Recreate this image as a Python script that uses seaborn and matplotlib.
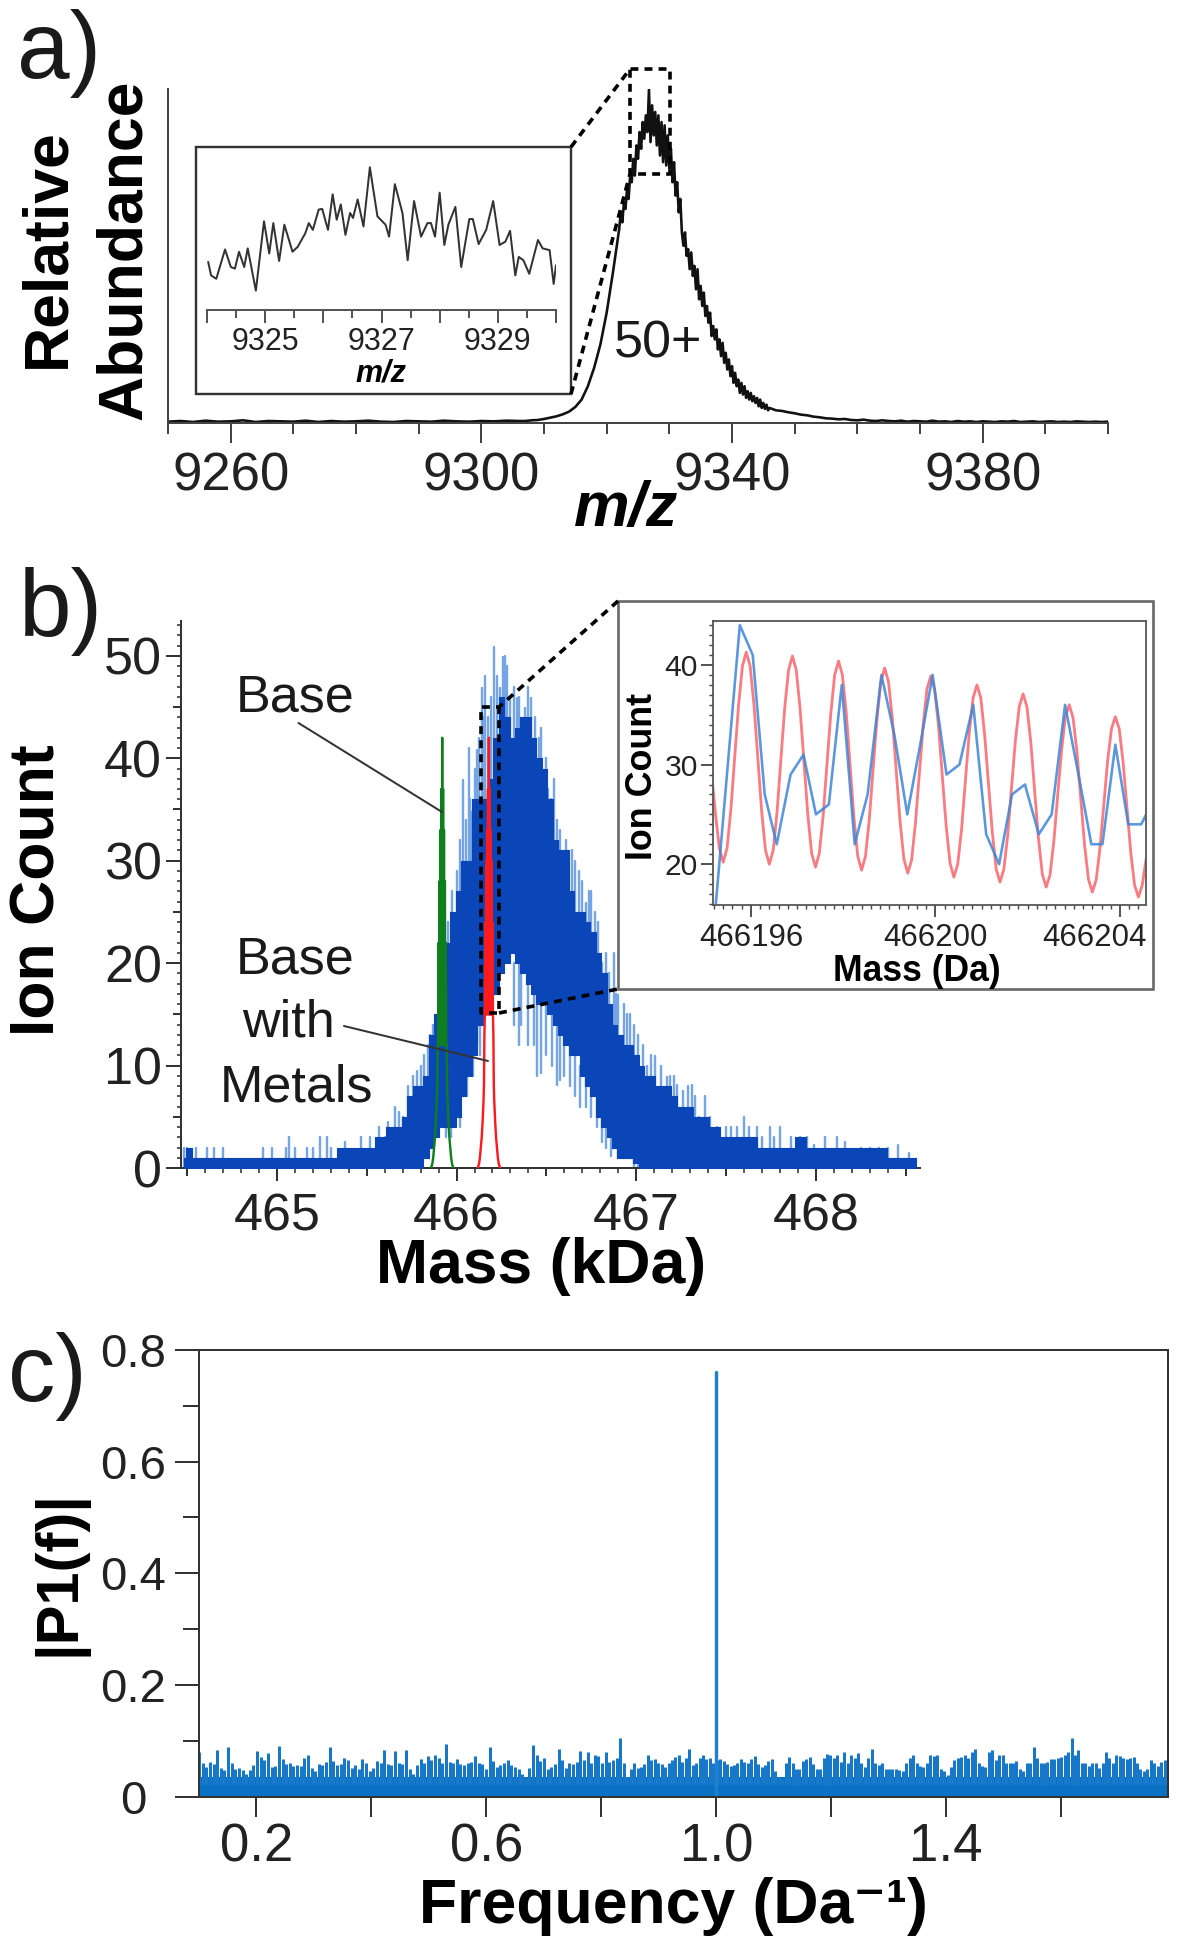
#plot three-panel mass spectra figure

import numpy as np
import pandas as pd
import seaborn as sns
import matplotlib.pyplot as plt
from matplotlib.lines import Line2D
from matplotlib.patches import Rectangle
from matplotlib.transforms import ScaledTranslation

W, H = 1179, 1950
PT = 0.72  # one pixel in points at dpi 100

# ---- panel a, full charge state ----
a_baseline = [0.4,0.6,0.3,0.7,0.4,0.5,0.8,0.3,0.6,0.5,0.4,0.7,0.3,0.6,0.4,0.5,0.7,0.4,0.3,0.6,
              0.5,0.4,0.7,0.5,0.4,0.6,0.5,0.7,0.6]  # 9250-9306, step 2
a_rise = [0.6,0.8,0.9,1.2,1.6,2.0,2.6,3.4,4.8,7,11,16.5,23.5,33,45]  # 9307-9321, step 1
a_peak = [58,63,60,66, 64,70,67,74, 72,79,74,83, 79,87,82,90, 85,92,87,99.8,
          84,95,86,93, 83,92,80,90, 78,89,77,86, 76,82,72,78, 68,72,63,67, 57]  # 9322-9332, step .25
a_flank = [53,57,50, 52,46,51,44, 47,40,46,37, 41,35,39,32, 35,30,33,26, 29,25,28,22,
           25,20,24,18, 21,16,19,14, 17,12,15,11, 13,9,12,8.5, 11,7.5,9.5,7, 9,6.5,8,6,
           7.5,5,7,4.5, 6,4.2,5.5,3.8]  # 9332.25-9345.75, step .25
a_tail = [4.5,3.8,3.6,3.2,2.9,2.5,2.3,1.9,1.7,1.4,1.3,1.1,1.2,0.9,0.8,1,0.7,0.6,0.8,0.6,
          0.5,0.7,0.4,0.6,0.5,0.4,0.7,0.4,0.5,0.3,0.6,0.4,0.5,0.3,0.5,0.4,0.3,0.5,0.4,0.6,
          0.3,0.4,0.5,0.3,0.4,0.5,0.3,0.4,0.3,0.5,0.4,0.3,0.4,0.3,0.4]  # 9346-9400, step 1

# panel a inset
a_zoom_mz = [9324.02,9324.07,9324.16,9324.31,9324.41,9324.48,9324.55,9324.64,9324.70,9324.84,
             9324.98,9325.07,9325.14,9325.24,9325.33,9325.47,9325.56,9325.69,9325.75,9325.82,
             9325.92,9325.98,9326.08,9326.16,9326.23,9326.30,9326.38,9326.46,9326.51,9326.59,
             9326.69,9326.80,9326.93,9327.07,9327.13,9327.23,9327.36,9327.45,9327.56,9327.68,
             9327.79,9327.85,9327.92,9328.00,9328.08,9328.15,9328.27,9328.37,9328.51,9328.57,
             9328.67,9328.80,9328.92,9329.03,9329.13,9329.21,9329.30,9329.36,9329.44,9329.54,
             9329.69,9329.77,9329.89,9329.96,9330.00]
a_zoom_int = [35.8,25.8,23.3,45,32,30.8,43.3,32,45.8,14.5,65.8,42,64.5,36.5,63.3,43.3,47,57,64.5,59.5,
              74.5,75,59.5,85.8,67,78.3,55.8,72,68.3,82,62,105.8,69.5,63.3,54.5,93.3,72,37,80.8,54.5,
              64.5,64.5,54.5,87,48.3,63.3,76.5,32,67.5,67.5,49,59.5,80.8,48.3,50.8,58.8,25.8,39.5,37,27,
              52,45.8,44.5,19.5,33.3]

# ---- panel b, deconvolved spectrum: solid band, step .03 kDa from 464.48 ----
b_core_top = [1,2,1,1,1,1,1,1,1,1,1,1,1,1,1,1,1,1,1,1,1,1,1,1,1,
              1,1,1,1,2,2,2,2,2,2,
              2,3,3,4,4,4,5,7,8,8,9,13,15,20,22,25,
              27,30,30,36,36,36,38,42,46,44,42,43,44,44,42,40,39,36,32,31,31,27,25,25,24,23,21,19,16,14,13,12,12,
              11,10,9,9,8,8,8,7,6,6,6,5,5,5,4,4,3,3,3,3,3,3,3,2,2,2,2,2,2,2,3,3,2,2,
              2,2,2,2,2,2,2,2,2,2,2,2,2,1,1,1,1,1,1]
b_core_bottom = [0]*45 + [1,2,3,4,4,4,
              5,7,9,11,14,15,16,17,19,20,21,20,19,18,17,16,16,15,14,13,12,11,11,9,8,7,5,4,3,2,1,1,1,
              0.5] + [0]*52

# single spikes outside the solid band
b_spike_mass = [464.48,464.50,464.55,464.61,464.65,464.70,464.92,464.97,465.05,465.07,465.10,465.17,465.20,465.24,465.28,
                465.30,465.38,465.47,465.52,465.57,465.60,465.64,465.66,465.70,465.73,465.80,465.82,465.85,465.88,465.90,
                465.976,466.007,466.037,466.067,466.087,466.115,466.143,466.16,466.208,466.24,466.257,466.283,466.338,466.38,466.417,
                466.457,466.497,466.528,466.558,466.595,466.623,466.68,466.72,466.751,466.81,466.875,466.90,466.966,466.99,467.06,
                467.105,467.17,467.23,467.31,467.35,467.385,467.45,467.60,467.67,467.745,467.80,467.91,467.99,468.12,468.25,468.46,
                465.84,465.91,466.04,466.115,466.346,466.45,466.47,466.557,466.575,466.66,466.72,466.78,466.83,466.90,
                465.62,465.68,465.76,465.78,465.84,465.87,465.93,465.95,
                466.00,466.02,466.05,466.075,466.10,466.125,466.15,466.175,466.19,466.225,466.27,466.30,466.32,466.35,466.36,466.395,
                466.435,466.47,466.51,466.54,466.575,466.61,466.64,466.66,466.70,466.735,466.77,466.79,466.83,466.85,466.885,466.93,466.95,
                467.01,467.04,467.08,467.14,467.19,467.21,467.26,467.29,467.33,467.41,467.50,467.53,467.56,467.63,467.70,467.77,467.86,467.95,
                468.05,468.16,468.30,468.35,468.40,468.52,
                466.32,466.36,466.40,466.43,466.50,466.53,466.60,466.63,466.69,466.75,466.81,466.86,
                466.02,466.06,466.09,466.13,465.94,465.97]
b_spike_hi = [2,2,2,2,2,2,2,2,2,3,2,2,2,3,3,
              2,2.5,3,3,4,3,3,6,5,8,10,11,13,14,15.5,
              27,25.9,37.9,41,34.8,40.8,46.9,48,50.9,46.9,49.9,49,45.9,44.9,45.9,
              42,40,36,34,30,30.9,29,25.9,27,20,21,16.9,15,14,10,
              10.9,8.9,8.1,8.1,5,7,4,5,4,4,4,3,2.2,3,2,2.2,
              3,6,12,16,24,20,20,17,16,13,10,7,5,3,
              4.5,5.5,9,9.5,12,14,22,24,
              29,32,34,36,39,42,44,44,46,48,50,46,47,46,43,47,
              44,43,37,38,33,32,31,30,28,27,25,24,21,19,17,16,15,
              13,12,11,10,9,9,7.5,8,7,5,4,4,4,4,3,3,3,3,
              3,2.5,2,2,2,1.5,
              20,20,18,17,16,15,13,12,10,8,5,3,
              7,10,12,15,5,5]
b_spike_lo = [0,0,0,0,0,0,0,0,0,0,0,0,0,0,0,
              0,0,0,0,0,0,0,0,0,0,0,2,3,3,4,
              6,6,9,12,14,15,18,20,22,22,22,22,24,24,24,
              22,20,18,17,15,15,12,10,8,5,2,2,1,0,0,
              0,0,0,0,0,0,0,0,0,0,0,0,0,0,0,0,
              1,4,8.3,12.2,12,9,9.3,8.1,8.6,7,6,4,2,1,
              0,0,0,0,1,2,4,4,
              5,6,8,10,12,14,16,18,18,20,22,22,22,22,22,22,
              20,18,18,16,14,14,14,12,10,9,8,6,4,3,2,1,1,
              0,0,0,0,0,0,0,0,0,0,0,0,0,0,0,0,0,0,
              0,0,0,0,0,0,
              14,14,12,12,11,10,9,8,6,5,2.5,1.2,
              4,7,9,11,3,3]

# the two calculated isotope envelopes
iso_offset = [-.062,-.055,-.05,-.045,-.04,-.035,-.03,-.0275,-.025,-.0225,-.02,-.0175,-.015,-.0125,-.01,-.0075,-.005,-.0025,0,
              .0025,.005,.0075,.01,.0125,.015,.0175,.02,.0225,.025,.0275,.03,.035,.04,.045,.05,.055,.062]
base_counts = [0,.4,1,2,3,4.5,6.5,8,12,12,22,12,28,12,33,12,37,12,42,
               12,37,12,33,12,28,12,22,12,12,8,6.5,4.5,3,2,1,.4,0]
metal_counts = [0,.4,1,2,3,4.5,6.5,8,13,15,24,15,30,15,33,15,37,15,42,
                15,37,15,33,15,30,15,24,15,13,8,6.5,4.5,3,2,1,.4,0]
base_center = 465.92
metal_center = 466.18

# panel b inset, measured trace
b_zoom_mass = [466195.24,466195.76,466196.04,466196.30,466196.56,466196.86,466197.14,466197.41,466197.69,466197.97,
               466198.25,466198.53,466198.83,466199.11,466199.39,466199.67,466199.94,466200.24,466200.52,466200.82,
               466201.10,466201.38,466201.66,466201.94,466202.24,466202.52,466202.81,466203.10,466203.38,466203.62,
               466203.90,466204.18,466204.46,466204.57]
b_zoom_counts = [16,44,41,27,22,29,31,25,26,38,22,27,39,33,25,32,39,29,30,36,23,20,27,28,23,25,36,29,22,22,32,24,24,25]
# panel b inset, calculated trace, one value every 1/12 Da from 466195.15
b_calc_counts = [29.0,25.0,21.6,20.2,
                 21.6,25.5,30.8,36.0,39.9,41.3, 39.9,36.0,30.7,25.3,21.4,20.0,
                 21.4,25.2,30.5,35.7,39.5,40.9, 39.5,35.6,30.3,25.0,21.1,19.7,
                 21.1,24.9,30.1,35.2,39.0,40.4, 39.0,35.2,29.9,24.7,20.8,19.4,
                 20.8,24.5,29.6,34.6,38.3,39.7, 38.3,34.6,29.4,24.3,20.5,19.1,
                 20.4,24.1,29.0,33.9,37.6,38.9, 37.5,33.9,28.8,23.8,20.1,18.7,
                 20.0,23.5,28.4,33.2,36.7,38.0, 36.7,33.0,28.1,23.2,19.5,18.2,
                 19.5,22.9,27.7,32.4,35.8,37.1, 35.8,32.3,27.4,22.6,19.0,17.7,
                 18.9,22.3,26.9,31.4,34.8,36.0, 34.7,31.3,26.6,21.9,18.5,17.2,
                 18.4,21.6,26.0,30.4,33.6,34.8, 33.6,30.3,25.8,21.2,17.9,16.7,
                 17.9,20.5]

# ---- panel c, Fourier transform: top of the noise floor, step .006 ----
c_noise_left = [.079,.060,.053,.062,.058,.083,.052,.048,.088,.060,.050,.052,.048,.040,.047,.056,.082,.071,.066,.078,
                .053,.055,.090,.068,.058,.060,.055,.056,.054,.070,.074,.052,.046,.058,.056,.062,.088,.064,.056,.058,
                .070,.066,.052,.056,.050,.067,.060,.046,.052,.064,.060,.083,.058,.056,.082,.060,.058,.083,.050,.040,
                .056,.068,.060,.072,.065,.074,.070,.060,.094,.062,.060,.068,.058,.056,.060,.062,.072,.060,.058,.050,
                .088,.064,.053,.056,.060,.066,.056,.053,.050,.040,.032,.052,.093,.074,.064,.070,.050,.053,.058,.085,
                .066,.052,.060,.058,.062,.081,.066,.079,.060,.074,.072,.060,.079,.062,.066,.070,.105]
c_noise_right = [.06,.036,.05,.06,.052,.053,.058,.074,.066,.068,.06,.058,.053,.06,.066,.071,.074,.062,.07,.085,
                 .057,.06,.07,.074,.068,.07,.06,.065,.068,.064,.058,.055,.056,.06,.067,.062,.06,.068,.072,.058,
                 .053,.056,.064,.067,.045,.036,.032,.06,.071,.06,.05,.05,.064,.068,.071,.058,.05,.05,.07,.076,
                 .074,.07,.074,.062,.08,.06,.075,.07,.078,.06,.053,.07,.085,.06,.056,.06,.05,.05,.05,.05,
                 .048,.046,.06,.07,.074,.06,.055,.053,.06,.074,.072,.074,.05,.045,.039,.053,.065,.07,.071,.075,
                 .07,.08,.085,.06,.055,.053,.08,.084,.066,.075,.074,.06,.06,.06,.064,.05,.046,.06,.06,.088,
                 .07,.06,.06,.062,.067,.068,.07,.071,.075,.08,.105,.074,.083,.06,.06,.055,.06,.06,.052,.06,
                 .08,.07,.06,.074,.072,.07,.068,.07,.071,.06,.05,.046,.05,.065,.06,.055,.062,.065,.062]
c_solid_top = 0.036
c_peak_freq = [1.0, 1.0]
c_peak_height = [0.0, 0.76]

sns.set_theme(style="white")
plt.rcParams['font.family'] = ['Liberation Sans', 'DejaVu Sans']

fig = plt.figure(figsize=(W / 100, H / 100), dpi=100, facecolor='white')


def px_axes(left, top, right, bottom, zorder=1):
    ax = fig.add_axes([left / W, 1 - bottom / H, (right - left) / W, (bottom - top) / H], zorder=zorder)
    ax.patch.set_alpha(0)
    return ax


def line(ax, x, y, color, width, **kw):
    sns.lineplot(x=np.asarray(x), y=np.asarray(y), ax=ax, color=color, linewidth=width * PT,
                 estimator=None, sort=False, errorbar=None, legend=False, **kw)


def style_spines(ax, color, width, show=('left', 'bottom')):
    for name, spine in ax.spines.items():
        spine.set_visible(name in show)
        spine.set_color(color)
        spine.set_linewidth(width * PT)


def tier(axis, sizes):
    # tick lengths in pixels, one per major tick
    for tick, size in zip(axis.get_major_ticks(), sizes):
        tick.tick1line.set_markersize(size * PT)


# ---------------- a) ----------------
ax_a = px_axes(168, 88.6, 1108, 423)
mz_a = np.concatenate([9250 + 2 * np.arange(len(a_baseline)), 9307 + np.arange(len(a_rise)),
                       9322 + 0.25 * np.arange(len(a_peak)), 9332.25 + 0.25 * np.arange(len(a_flank)),
                       9346 + np.arange(len(a_tail))])
line(ax_a, mz_a, a_baseline + a_rise + a_peak + a_flank + a_tail, '#111111', 2.6)
ax_a.set_xlim(9250, 9400)
ax_a.set_ylim(0, 100)
style_spines(ax_a, '#444444', 2)
ax_a.set_yticks([])
ax_a.set_xticks([9260, 9300, 9340, 9380], ['9260', '9300', '9340', '9380'])
ax_a.set_xticks(np.arange(9250, 9401, 10), minor=True)
ax_a.tick_params(axis='x', which='major', bottom=True, length=20 * PT, width=2 * PT, color='#444444',
                 labelsize=38, labelcolor='#222222', pad=6)
ax_a.tick_params(axis='x', which='minor', bottom=True, length=11 * PT, width=2 * PT, color='#444444')
ax_a.set_xlabel('')
ax_a.set_ylabel('')

# ---------------- b) ----------------
ax_b = px_axes(181, 621, 920, 1168)
mass_core = 464.48 + 0.03 * np.arange(len(b_core_top))
spikes = pd.DataFrame({'mass': np.repeat(b_spike_mass, 2),
                       'count': np.column_stack([b_spike_lo, b_spike_hi]).ravel(),
                       'spike': np.repeat(np.arange(len(b_spike_mass)), 2)})
sns.lineplot(data=spikes, x='mass', y='count', units='spike', estimator=None, errorbar=None, ax=ax_b,
             color='#76a5e4', linewidth=2.4 * PT, legend=False)
ax_b.fill_between(mass_core, b_core_bottom, b_core_top, step='mid', color='#0a46b8', lw=0.8, zorder=3)
line(ax_b, base_center + np.array(iso_offset), base_counts, '#0e7f1c', 2.4, zorder=4)
line(ax_b, metal_center + np.array(iso_offset), metal_counts, '#fb1a1e', 2.4, zorder=4)
ax_b.set_xlim(464.466, 468.58)
ax_b.set_ylim(0, 53.4)
style_spines(ax_b, '#333333', 2)
b_xt = np.arange(464.5, 468.51, 0.5)
ax_b.set_xticks(b_xt, [f'{v:.0f}' if abs(v - round(v)) < .01 else '' for v in b_xt])
ax_b.set_xticks(np.arange(464.5, 468.55, 0.1), minor=True)
b_yt = np.arange(0, 51, 5)
ax_b.set_yticks(b_yt, [f'{v}' if v % 10 == 0 else '' for v in b_yt])
ax_b.set_yticks(np.arange(0, 54, 1), minor=True)
ax_b.tick_params(axis='x', which='major', bottom=True, width=2 * PT, color='#333333', labelsize=37.5,
                 labelcolor='#222222', length=13 * PT, pad=8)
ax_b.tick_params(axis='x', which='minor', bottom=True, width=1.6 * PT, color='#333333', length=5 * PT)
ax_b.tick_params(axis='y', which='major', left=True, width=2 * PT, color='#333333', labelsize=37.5,
                 labelcolor='#222222', length=15 * PT, pad=3)
ax_b.tick_params(axis='y', which='minor', left=True, width=1.6 * PT, color='#333333', length=4 * PT)
tier(ax_b.xaxis, [8 if abs(v - round(v)) > .01 else 13 for v in b_xt])
tier(ax_b.yaxis, [15 if v % 10 == 0 else 8 for v in b_yt])
ax_b.set_xlabel('')
ax_b.set_ylabel('')

# ---------------- c) ----------------
ax_c = px_axes(199, 1350, 1168, 1796.6)
freq_left = np.linspace(0.1, 0.833, len(c_noise_left))
freq_right = np.linspace(0.839, 1.786, len(c_noise_right))
freq = np.concatenate([freq_left, freq_right])
noise = np.array(c_noise_left + c_noise_right)
ax_c.vlines(freq, 0.02, noise, color='#1777c8', lw=3.0 * PT)
ax_c.fill_between([0.1, 1.786], 0.001, c_solid_top, color='#0a72c4', lw=0)
line(ax_c, c_peak_freq, c_peak_height, '#1f80cf', 3.4)
ax_c.set_xlim(0.1, 1.786)
ax_c.set_ylim(0, 0.8)
style_spines(ax_c, '#333333', 2, show=('left', 'bottom', 'top', 'right'))
ax_c.set_xticks([.2, .4, .6, .8, 1.0, 1.2, 1.4, 1.6], ['0.2', '', '0.6', '', '1.0', '', '1.4', ''])
ax_c.set_yticks([0, .2, .4, .6, .8], ['0', '0.2', '0.4', '0.6', '0.8'])
ax_c.set_yticks([.1, .3, .5, .7], minor=True)
ax_c.tick_params(axis='x', which='major', bottom=True, length=20 * PT, width=2 * PT, color='#333333',
                 labelsize=38, labelcolor='#222222', pad=4)
ax_c.tick_params(axis='y', which='major', left=True, length=24 * PT, width=2 * PT, color='#333333',
                 labelsize=34, labelcolor='#222222', pad=30)
ax_c.tick_params(axis='y', which='minor', left=True, length=16 * PT, width=2 * PT, color='#333333')
for lab in ax_c.get_yticklabels():
    lab.set_ha('center')
ax_c.set_xlabel('')
ax_c.set_ylabel('')

# ---------------- overlay: boxes, connectors, texts ----------------
ov = fig.add_axes([0, 0, 1, 1], zorder=5)
ov.set_xlim(0, W)
ov.set_ylim(H, 0)
ov.axis('off')
ov.patch.set_alpha(0)


def dashed(points, width=3.6):
    xs, ys = zip(*points)
    ov.add_line(Line2D(xs, ys, color='black', lw=width * PT, linestyle=(0, (2.2, 1.7)), solid_capstyle='butt'))


dashed([(571, 147), (630, 69), (670, 69), (670, 174), (630, 174), (630, 69)])
dashed([(571, 394), (630, 174)])
dashed([(618, 601), (499, 707), (481, 707), (481, 1013), (499, 1013), (499, 707)])
dashed([(499, 1013), (618, 989)])

ov.add_patch(Rectangle((196, 147.4), 375, 247, fc='white', ec='#333333', lw=2.4 * PT))
ov.add_patch(Rectangle((617.7, 601), 535.3, 388.3, fc='white', ec='#666666', lw=2.6 * PT))

ov.add_line(Line2D([298.5, 442], [723, 812], color='#333333', lw=2 * PT))
ov.add_line(Line2D([344, 488], [1026, 1061], color='#333333', lw=2 * PT))

for s, x, y in [('a)', 17, 78), ('b)', 19, 636), ('c)', 8, 1401)]:
    ov.text(x, y, s, fontsize=68, color='#1a1a1a', ha='left', va='baseline')

bold = dict(fontweight='bold', color='black', ha='center', va='center')
base = dict(fontweight='bold', color='black', ha='center', va='baseline')
ov.text(48, 248, 'Relative', fontsize=45, rotation=90, **bold)
ov.text(124, 250, 'Abundance', fontsize=45, rotation=90, **bold)
ov.text(626, 526, 'm/z', fontsize=45, fontstyle='italic', **base)
ov.text(658, 344, '50+', fontsize=37.5, color='#1a1a1a', ha='center', va='center')
ov.text(38, 890, 'Ion Count', fontsize=45, rotation=90, **bold)
ov.text(541, 1283, 'Mass (kDa)', fontsize=45, **base)
ov.text(60, 1573, '|P1(f)|', fontsize=43, rotation=90, **bold)
ov.text(673, 1923, 'Frequency (Da\u207b\u00b9)', fontsize=45, **base)
ov.text(295, 698, 'Base', fontsize=37.5, color='#1a1a1a', ha='center', va='center')
ov.text(295, 960, 'Base', fontsize=37.5, color='#1a1a1a', ha='center', va='center')
ov.text(288, 1023, 'with', fontsize=37.5, color='#1a1a1a', ha='center', va='center')
ov.text(296, 1088, 'Metals', fontsize=37.5, color='#1a1a1a', ha='center', va='center')
ov.text(381, 373.6, 'm/z', fontsize=22, fontstyle='italic', **bold)
ov.text(642, 777, 'Ion Count', fontsize=25.8, rotation=90, **bold)
ov.text(916.6, 971.7, 'Mass (Da)', fontsize=25.6, **bold)

# ---------------- inset of a) ----------------
ax_ia = px_axes(207, 147.4, 556, 310.3, zorder=6)
line(ax_ia, a_zoom_mz, a_zoom_int, '#333333', 2.0)
ax_ia.set_xlim(9324, 9330)
ax_ia.set_ylim(0, 120.5)
style_spines(ax_ia, '#555555', 2, show=('bottom',))
ia_xt = np.arange(9324, 9330.1, 0.5)
ax_ia.set_xticks(ia_xt, ['9325' if v == 9325 else '9327' if v == 9327 else '9329' if v == 9329 else '' for v in ia_xt])
ax_ia.set_yticks([])
ax_ia.tick_params(axis='x', which='major', bottom=True, width=2 * PT, color='#555555', labelsize=22,
                  labelcolor='#222222', length=13 * PT, pad=3)
tier(ax_ia.xaxis, [13 if v == int(v) else 8 for v in ia_xt])
ax_ia.set_xlabel('')
ax_ia.set_ylabel('')

# ---------------- inset of b) ----------------
ax_ib = px_axes(712.6, 620.7, 1145.8, 905, zorder=6)
line(ax_ib, 466195.15 + np.arange(len(b_calc_counts)) / 12, b_calc_counts, '#f8505a', 2.8, alpha=0.75,
     solid_joinstyle='round')
line(ax_ib, b_zoom_mass, b_zoom_counts, '#3f84d8', 2.6, alpha=0.85)
ax_ib.set_xlim(466195.17, 466204.56)
ax_ib.set_ylim(15.9, 44.45)
style_spines(ax_ib, '#555555', 1.8, show=('left', 'bottom', 'top', 'right'))
ib_xt = [466196, 466200, 466204]
ax_ib.set_xticks(ib_xt, [str(v) for v in ib_xt])
ax_ib.set_xticks(np.arange(466195.2, 466204.6, 0.2), minor=True)
ax_ib.set_yticks([20, 30, 40], ['20', '30', '40'])
ax_ib.set_yticks(np.arange(16, 45, 1), minor=True)
ax_ib.tick_params(axis='x', which='major', bottom=True, length=12 * PT, width=1.8 * PT, color='#444444',
                  labelsize=22.5, labelcolor='#222222', pad=4)
ax_ib.tick_params(axis='x', which='minor', bottom=True, length=4 * PT, width=1.4 * PT, color='#444444')
ax_ib.tick_params(axis='y', which='major', left=True, length=12 * PT, width=1.8 * PT, color='#444444',
                  labelsize=21.6, labelcolor='#222222', pad=2)
ax_ib.tick_params(axis='y', which='minor', left=True, length=4 * PT, width=1.4 * PT, color='#444444')
end_label = ax_ib.get_xticklabels()[2]
end_label.set_transform(end_label.get_transform() + ScaledTranslation(-26 / 100, 0, fig.dpi_scale_trans))
ax_ib.set_xlabel('')
ax_ib.set_ylabel('')

fig.savefig('out.png', dpi=100, facecolor='white')
